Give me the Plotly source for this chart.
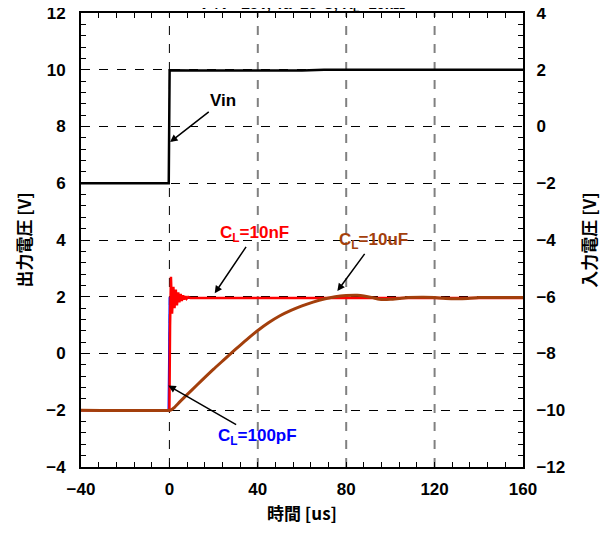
import plotly.graph_objects as go

# time axis [us] and output voltages [V]
t_10uF = [-40, 0, 1, 2, 5, 10, 15, 20, 25, 30, 35, 40, 45, 50, 55, 60, 65, 70, 75,
          80, 85, 88, 92, 95, 100, 104, 108, 115, 120, 125, 135, 140, 150, 160]
v_10uF = [-2.0, -2.0, -1.98, -1.92, -1.68, -1.3, -0.92, -0.55, -0.2, 0.15, 0.49, 0.81, 1.09,
          1.33, 1.52, 1.68, 1.81, 1.92, 2.0, 2.04, 2.05, 2.03, 1.97, 1.91, 1.91, 1.94, 1.97,
          1.98, 1.97, 1.94, 1.94, 1.97, 1.97, 1.97]

t_10nF = [-40, 0.0, 0.3, 0.7, 1.2, 1.8, 2.3, 2.9, 3.4, 4.0, 4.5, 5.1, 5.6, 6.2, 6.7,
          7.3, 7.8, 8.5, 9.5, 160]
v_10nF = [-2.0, -2.0, 1.0, 2.7, 1.4, 2.35, 1.6, 2.25, 1.7, 2.15, 1.8, 2.1, 1.85, 2.05, 1.9,
          2.02, 1.93, 1.99, 1.96, 1.96]

t_100pF = [-40, -0.4, 0.1, 0.5, 160]
v_100pF = [-2.0, -2.0, 1.98, 1.96, 1.96]

# input voltage [V] on right axis
t_vin = [-40, -0.3, 0.1, 10, 60, 70, 160]
v_vin = [-2.0, -2.0, 1.98, 1.97, 1.97, 2.0, 2.0]

grid_x = [40, 80, 120]

BROWN = "#a33f0c"
tick_font = dict(family="Liberation Sans, Arial", size=17, color="#000", weight="bold")
title_font = dict(family="Noto Sans CJK JP", size=17, color="#000", weight="bold")
ann_font = dict(family="Liberation Sans, Arial", size=17, weight="bold")

fig = go.Figure()
fig.add_trace(go.Scatter(x=t_100pF, y=v_100pF, mode="lines",
                         line=dict(color="#0000ff", width=2)))
fig.add_trace(go.Scatter(x=t_10nF, y=v_10nF, mode="lines",
                         line=dict(color="#ff0000", width=2.5)))
fig.add_trace(go.Scatter(x=t_10uF, y=v_10uF, mode="lines",
                         line=dict(color=BROWN, width=3, shape="spline", smoothing=0.6)))
fig.add_trace(go.Scatter(x=t_vin, y=v_vin, mode="lines", yaxis="y2",
                         line=dict(color="#000", width=2.5)))

shapes = [dict(type="line", xref="x", yref="paper", x0=0, x1=0, y0=0, y1=1,
               line=dict(color="#000", width=1, dash="dash"), layer="below")]
for gx in grid_x:
    shapes.append(dict(type="line", xref="x", yref="paper", x0=gx, x1=gx, y0=0, y1=1,
                       line=dict(color="#808080", width=2, dash="dash"), layer="below"))


def label(x, y, px, py, text, color):
    # label at (px, py) with an arrow pointing to (x, y)
    return dict(x=x, y=y, ax=px, ay=py, xref="x", yref="y", axref="x", ayref="y",
                text=text, showarrow=True, arrowhead=2, arrowsize=1, arrowwidth=1.5,
                arrowcolor="#000", standoff=0, font=dict(ann_font, color=color))


annotations = [
    label(0.3, 7.45, 24.2, 8.9, "Vin", "#000"),
    label(20.5, 2.12, 38.5, 4.2, "C<sub>L</sub>=10nF", "#ff0000"),
    label(76.0, 2.2, 92.5, 3.95, "C<sub>L</sub>=10uF", BROWN),
    label(-0.5, -1.13, 40.0, -2.95, "C<sub>L</sub>=100pF", "#0000ff"),
    dict(xref="paper", yref="paper", x=0.5, y=1.0, yshift=-3, yanchor="bottom",
         showarrow=False,
         text="V<sup>+</sup>/V<sup>-</sup>=±5V, Ta=25°C, R<sub>L</sub>=10kΩ",
         font=dict(family="Liberation Sans, Arial", size=15, color="#000", weight="bold")),
]

fig.update_layout(
    width=615, height=536,
    margin=dict(l=73, r=100, t=5, b=77),
    paper_bgcolor="#fff", plot_bgcolor="#fff",
    showlegend=False,
    shapes=shapes,
    annotations=annotations,
    xaxis=dict(range=[-40, 160], dtick=40, tick0=0, showgrid=False, zeroline=False,
               showline=True, linecolor="#000", linewidth=2, mirror="ticks",
               ticks="inside", ticklen=5, tickcolor="#000", ticklabelstandoff=6,
               minor=dict(dtick=8, ticks="inside", ticklen=5, tickcolor="#000"),
               tickfont=tick_font, automargin=False, ticklabeloverflow="allow",
               title=dict(text="時間 [us]", font=title_font, standoff=10)),
    yaxis=dict(range=[-4, 12], dtick=2, showgrid=True, gridcolor="#000", griddash="dash",
               gridwidth=1, zeroline=False, showline=True, linecolor="#000", linewidth=2,
               mirror=True, ticks="", tickfont=tick_font, ticklabelstandoff=10,
               automargin=False, ticklabeloverflow="allow",
               minor=dict(dtick=0.4, ticks="inside", ticklen=5, tickcolor="#000",
                          showgrid=False),
               title=dict(text="出力電圧 [V]", font=title_font, standoff=10)),
    yaxis2=dict(range=[-12, 4], dtick=2, overlaying="y", side="right", showgrid=False,
                zeroline=False, showline=True, linecolor="#000", linewidth=2,
                ticks="", tickfont=tick_font, ticklabelstandoff=8, automargin=False,
                ticklabeloverflow="allow",
                minor=dict(dtick=0.4, ticks="inside", ticklen=5, tickcolor="#000"),
                title=dict(text="入力電圧 [V]", font=title_font, standoff=20)),
)

fig.write_html("out.html")
